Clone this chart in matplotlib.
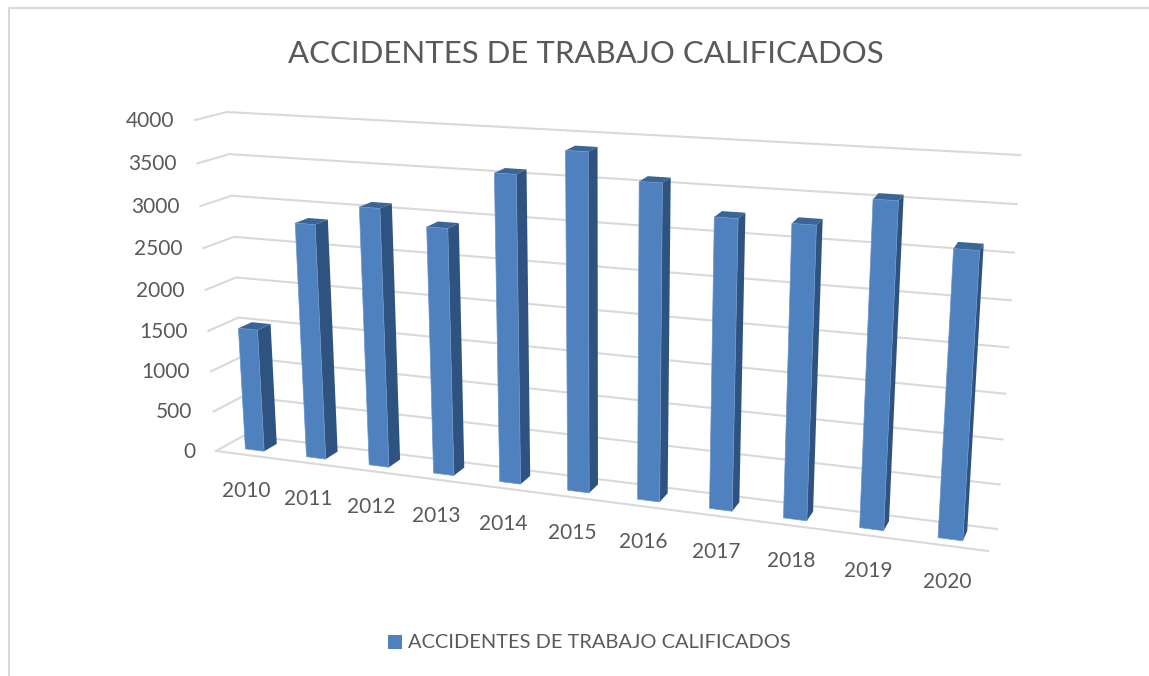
"""
ACCIDENTES DE TRABAJO CALIFICADOS, Excel style 3D column chart.
The 3D box is faked with two homographies (front and back plane of the box),
everything goes through project(u, v, d).
"""

import numpy as np
import matplotlib
matplotlib.use("Agg")
import matplotlib.pyplot as plt
from matplotlib.patches import Polygon, Rectangle

# ============================== DATA ==============================

TITLE  = "ACCIDENTES DE TRABAJO CALIFICADOS"
years  = [2010, 2011, 2012, 2013, 2014, 2015, 2016, 2017, 2018, 2019, 2020]
values = [1510, 2840, 3085, 2915, 3575, 3870, 3585, 3260, 3250, 3560, 3110]
yticks = [0, 500, 1000, 1500, 2000, 2500, 3000, 3500, 4000]

# ============================== STYLE =============================

W, H = 1149, 676
VMAX = 4000
N    = len(years)

# box corners in pixels: (left/bottom, left/top, right/bottom, right/top)
FRONT = [(216, 451), (195, 120), (988, 551), (1012, 168)]
BACK  = [(245, 435), (227, 112), (997, 529), (1020, 155)]

BAR_D0, BAR_D1 = 0.30, 0.75   # bar extent along the depth axis
BAR_W = 0.31                  # bar width in category units

COL_FRONT = "#4E81BD"
COL_SIDE  = "#2F5380"
COL_TOP   = "#3A6596"
COL_EDGE  = "#6A95C8"
COL_GRID  = "#D9D9D9"
COL_TEXT  = "#595959"

plt.rcParams["font.family"] = ["Lato", "DejaVu Sans"]


def homography(corners):
    """Unit square -> quad, corners as (0,0), (0,1), (1,0), (1,1)."""
    src = [(0, 0), (0, 1), (1, 0), (1, 1)]
    A, b = [], []
    for (x, y), (px, py) in zip(src, corners):
        A.append([x, y, 1, 0, 0, 0, -x * px, -y * px])
        A.append([0, 0, 0, x, y, 1, -x * py, -y * py])
        b += [px, py]
    h = np.linalg.solve(np.array(A, float), np.array(b, float))
    return np.append(h, 1).reshape(3, 3)


H_FRONT = homography(FRONT)
H_BACK  = homography(BACK)


def project(u, v, d):
    """u: category axis (0..N), v: value, d: depth (0 front, 1 back) -> pixel."""
    p = np.array([u / N, v / VMAX, 1.0])
    f = H_FRONT @ p
    k = H_BACK @ p
    f, k = f[:2] / f[2], k[:2] / k[2]
    return tuple(f + (k - f) * d)


def main():
    fig = plt.figure(figsize=(W / 100, H / 100), dpi=100)
    ax = fig.add_axes([0, 0, 1, 1])
    ax.set_xlim(0, W)
    ax.set_ylim(H, 0)
    ax.axis("off")

    # chart frame, only top and left are inside the crop
    ax.plot([9, 9, W + 5], [H + 5, 8, 8], color=COL_GRID, lw=1.5)

    ax.text(585.5, 54, TITLE, color=COL_TEXT, fontsize=22.4, ha="center", va="center")

    # gridlines: left wall + back wall, floor front edge
    for v in yticks:
        pts = [project(0, v, 0), project(0, v, 1), project(N, v, 1)]
        ax.plot(*zip(*pts), color=COL_GRID, lw=1.5, zorder=1)
        x, y = project(0, v, 0)
        ax.text(x - 21, y + 1, str(v), color=COL_TEXT, fontsize=15, ha="right", va="center")
    ax.plot(*zip(project(0, 0, 0), project(N, 0, 0)), color=COL_GRID, lw=1.5, zorder=1)

    # bars
    for i, (year, val) in enumerate(zip(years, values)):
        u0, u1 = i + 0.5 - BAR_W / 2, i + 0.5 + BAR_W / 2
        fb0, fb1 = project(u0, 0, BAR_D0), project(u1, 0, BAR_D0)
        ft0, ft1 = project(u0, val, BAR_D0), project(u1, val, BAR_D0)
        bb1 = project(u1, 0, BAR_D1)
        bt0, bt1 = project(u0, val, BAR_D1), project(u1, val, BAR_D1)

        ax.add_patch(Polygon([fb1, ft1, bt1, bb1], fc=COL_SIDE, ec="none", zorder=3))
        ax.add_patch(Polygon([ft0, ft1, bt1, bt0], fc=COL_TOP, ec="none", zorder=3))
        ax.add_patch(Polygon([fb0, ft0, ft1, fb1], fc=COL_FRONT, ec=COL_EDGE, lw=0.5, zorder=4))

        x, y = project(i + 0.5, 0, 0)
        ax.text(x, y + 36, str(year), color=COL_TEXT, fontsize=15, ha="center", va="center")

    # legend
    ax.add_patch(Rectangle((388, 635), 14, 14, fc=COL_FRONT, ec="none"))
    ax.text(408, 642, TITLE, color=COL_TEXT, fontsize=14.4, ha="left", va="center")

    fig.savefig("out.png", dpi=100, facecolor="white")


if __name__ == "__main__":
    main()
